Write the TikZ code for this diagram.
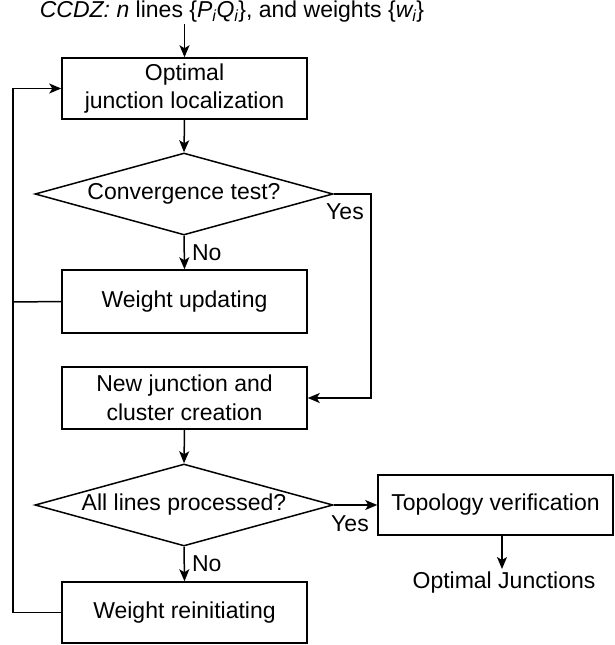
\documentclass[tikz,border=0pt]{standalone}
\usepackage{fontspec}
\setmainfont{Liberation Sans}
\usetikzlibrary{shapes.geometric,arrows.meta}
\begin{document}
\begin{tikzpicture}[x=1pt,y=-1pt,
  line width=1.5pt,
  every node/.style={font=\fontsize{23}{28.5}\selectfont},
  procbox/.style={draw,rectangle,inner sep=0pt,minimum width=245pt,minimum height=61pt,align=center},
  decbox/.style={draw,diamond,inner sep=0pt,minimum width=298pt,minimum height=82pt,shape aspect=3.6},
  plain/.style={inner sep=0pt},
  arr/.style={-{Stealth[length=12pt,width=10pt,inset=3pt]}},
  lbl/.style={inner sep=0pt}
]
\useasboundingbox (0,0) rectangle (615,645);
\node[plain] (title) at (232,12) {\textit{CCDZ:} \textit{n} lines \{\textit{P\textsubscript{i}Q\textsubscript{i}}\}, and weights \{\textit{w\textsubscript{i}}\}};
\coordinate (tin) at (184.5,24);
\node[procbox] (loc) at (184.5,88.5) {Optimal\\junction localization};
\node[decbox] (conv) at (184,194) {Convergence test?};
\node[procbox,minimum height=63pt] (wup) at (184.5,301.5) {Weight updating};
\node[procbox,minimum height=62pt] (newj) at (184.5,398) {New junction and\\cluster creation};
\node[decbox] (all) at (184,505) {All lines processed?};
\node[procbox] (wre) at (184.5,612.5) {Weight reinitiating};
\node[procbox,minimum width=235pt,minimum height=60pt] (topo) at (495.5,505) {Topology verification};
\node[plain] (oj) at (504,583) {Optimal Junctions};
\coordinate (ojtop) at (502,569);
\coordinate (cr) at (371,194);
\coordinate (rail) at (13,302);

\draw[arr] (tin) -- (loc.north);
\draw[arr] (loc.south) -- (conv.north);
\draw[arr] (conv.south) -- (wup.north) node[lbl,pos=0.5,right=7pt] {No};
\draw[arr] (conv.east) -- (cr) |- (newj.east);
\node[lbl] at (345,212) {Yes};
\draw[arr] (newj.south) -- (all.north);
\draw[arr] (all.east) -- (topo.west);
\node[lbl] at (350,524) {Yes};
\draw[arr] (all.south) -- (wre.north) node[lbl,pos=0.5,right=7pt] {No};
\draw[arr] (topo.south -| ojtop) -- (ojtop);
\draw (wup.west) -- (rail);
\draw[arr] (wre.west) -| (rail) |- (loc.west);
\end{tikzpicture}
\end{document}
